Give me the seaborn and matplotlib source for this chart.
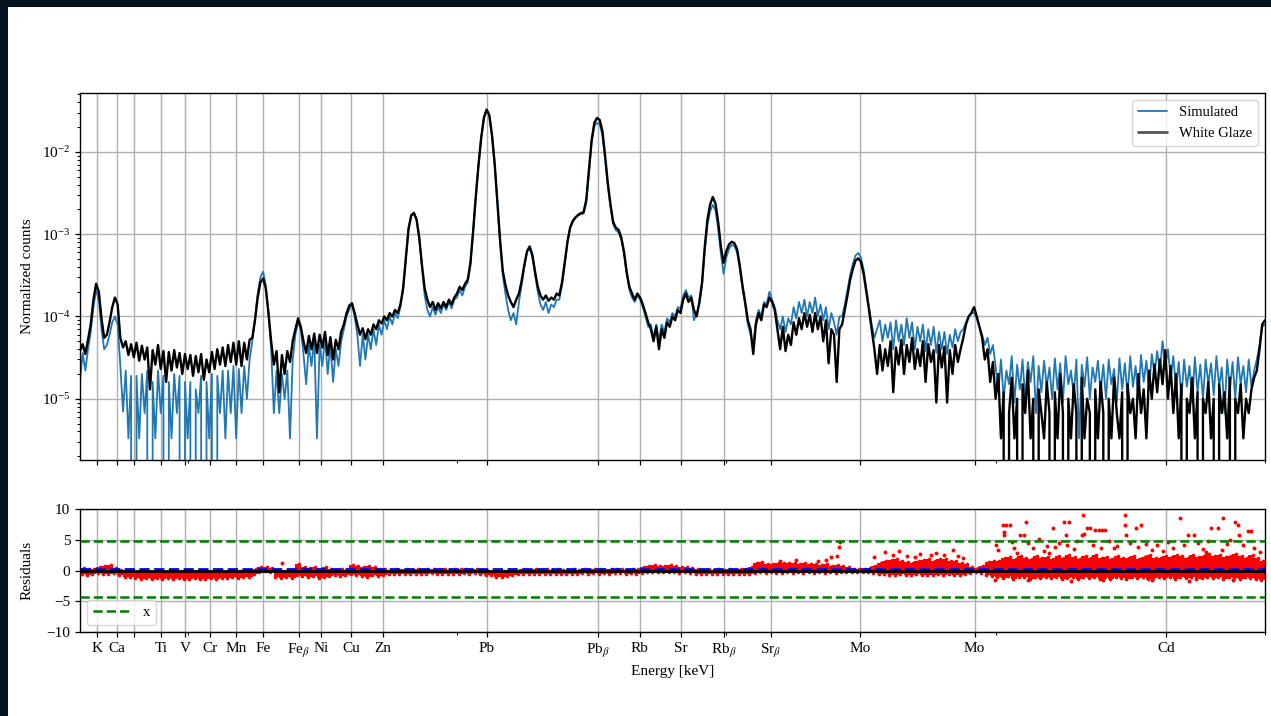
import matplotlib
matplotlib.use("Agg")
import matplotlib.pyplot as plt
import numpy as np
import seaborn as sns
from matplotlib.patches import Rectangle
from matplotlib.ticker import FixedLocator

# ── Data (counts in units of 1e-5, one row per keV, 0.05 keV steps) ─────────
simulated = [
    1.6, 3.6, 2.2, 4.0, 6.5, 13, 21, 16, 7.0, 4.0, 4.5, 6.0, 8.5, 10, 8.0, 2.5, 0.7, 2.2, 0.33, 1.9,
    0, 1.9, 0.33, 2.0, 0.67, 2.2, 0, 1.6, 0.33, 2.2, 0.67, 1.9, 0, 1.6, 0.33, 2.0, 0.67, 1.9, 0, 1.6,
    0.33, 1.6, 0, 1.3, 0.67, 1.9, 0, 1.6, 0.33, 2.0, 0, 1.9, 0.67, 2.2, 0.33, 2.2, 0.67, 2.5, 0.33, 2.3,
    0.67, 2.5, 1.0, 3.0, 5.0, 9.5, 19, 30, 35, 24, 11, 4.0, 0.67, 2.2, 0.67, 2.0, 1.0, 2.2, 0.33, 3.0,
    6.0, 8.5, 7.0, 3.5, 1.5, 4.5, 2.5, 5.5, 0.33, 4.5, 2.5, 5.5, 2.0, 4.5, 1.6, 4.0, 2.5, 5.0, 7.0, 10,
    12, 14.5, 10, 6.0, 2.5, 6.0, 3.0, 6.0, 4.0, 7.0, 4.5, 8.0, 6.0, 9.0, 7.0, 10, 8.0, 11, 9.5, 13,
    21, 50, 118, 172, 185, 152, 88, 40, 18, 12, 10, 13, 10.5, 13, 11, 14, 12, 15, 12.5, 16,
    17, 21, 18, 23, 26, 42, 105, 280, 690, 1480, 2580, 3250, 2780, 1580, 700, 240, 80, 32, 19, 12,
    9.0, 11, 8.0, 15, 24, 40, 60, 68, 53, 32, 20, 14, 12, 15, 11, 14, 13, 16, 16, 24,
    42, 78, 118, 142, 158, 168, 175, 178, 240, 560, 1300, 2050, 2250, 2150, 1600, 820, 390, 215, 132, 112,
    105, 85, 58, 33, 21, 17, 15, 18, 16, 13, 10, 7.5, 8.0, 5.5, 8.0, 5.0, 8.0, 6.5, 9.5, 8.5,
    11, 10, 13, 12.5, 18, 21, 17, 18, 9.0, 11, 14, 24, 62, 130, 190, 227, 195, 115, 58, 33,
    52, 66, 74, 72, 60, 38, 22, 14, 8.0, 6.0, 4.5, 9.0, 12, 10, 15, 14, 20, 16, 13, 9.0,
    7.0, 10, 6.5, 9.5, 8.0, 13, 9.5, 15, 11, 16, 10, 15, 11, 17, 10, 14, 9.0, 13, 7.0, 11,
    8.5, 6.0, 10, 10, 14, 21, 32, 44, 55, 59, 52, 37, 22, 13, 8.0, 5.5, 7.0, 9.0, 5.0, 8.0,
    5.5, 8.5, 4.0, 9.0, 5.0, 8.0, 4.5, 9.5, 5.5, 8.5, 4.0, 7.5, 5.0, 8.0, 3.8, 7.0, 4.5, 7.5, 3.6, 6.5,
    4.0, 6.5, 3.5, 6.0, 4.2, 7.0, 5.0, 6.5, 7.0, 8.5, 10, 11, 11, 9.5, 7.5, 6.0, 4.5, 5.5, 3.5, 4.5,
    2.5, 1.2, 3.0, 1.0, 2.2, 1.5, 3.3, 0.9, 2.6, 1.3, 3.0, 1.0, 2.8, 1.6, 3.3, 0.67, 2.5, 1.2, 2.9, 1.4,
    2.4, 1.0, 3.1, 1.3, 2.7, 0.9, 3.3, 1.5, 2.2, 1.1, 3.0, 0.33, 2.6, 1.4, 3.2, 1.0, 2.4, 1.6, 2.9, 1.2,
    2.6, 1.0, 3.0, 1.5, 2.3, 0.9, 3.1, 1.3, 2.7, 1.1, 3.3, 1.4, 2.5, 1.0, 3.4, 1.6, 2.9, 1.3, 3.5, 2.0,
    3.8, 2.2, 5.0, 2.4, 4.0, 1.8, 3.3, 1.3, 2.8, 1.0, 3.0, 1.4, 2.5, 0.9, 3.2, 1.2, 2.6, 1.0, 3.0, 1.5,
    2.7, 1.1, 3.3, 1.4, 2.4, 0.67, 3.0, 1.3, 2.8, 1.0, 3.2, 1.5, 2.5, 1.2, 3.0, 1.4, 2.2, 3.0, 4.5, 7.5,
    8.0,
]

white_glaze = [
    3.8, 4.6, 3.5, 5.2, 8.0, 16, 25, 20, 9.5, 5.5, 6.0, 8.5, 13, 17, 14, 5.5, 4.2, 5.0, 3.4, 4.6,
    3.2, 4.8, 2.9, 4.4, 3.0, 4.2, 1.3, 3.9, 2.6, 4.5, 2.3, 3.8, 1.6, 3.7, 2.2, 3.9, 2.4, 3.6, 2.0, 3.5,
    2.3, 3.4, 1.9, 3.3, 2.1, 3.5, 1.7, 3.0, 2.1, 3.7, 2.3, 4.0, 2.6, 4.2, 2.5, 4.5, 2.8, 4.8, 2.6, 5.0,
    2.5, 4.8, 3.0, 5.2, 5.5, 9.0, 17, 26, 29, 22, 11, 5.0, 2.6, 3.8, 1.2, 3.4, 2.0, 3.8, 2.8, 5.0,
    7.0, 9.5, 7.5, 5.0, 3.6, 5.8, 4.0, 6.2, 3.6, 6.0, 4.2, 6.5, 3.4, 5.6, 3.0, 5.2, 4.0, 6.5, 8.0, 11,
    13.5, 14.5, 11, 8.0, 6.0, 7.2, 5.3, 7.0, 6.0, 8.0, 7.0, 9.0, 8.2, 10, 9.0, 11, 10, 12, 11, 14,
    22, 50, 115, 168, 180, 150, 90, 42, 22, 16, 13, 15, 12, 14.5, 12.5, 15, 13, 16, 14, 17,
    19, 23, 21, 25, 28, 45, 110, 290, 700, 1500, 2600, 3270, 2800, 1600, 720, 250, 85, 36, 24, 18,
    15, 13, 16, 19, 27, 42, 62, 71, 56, 35, 23, 18, 16, 18, 15.5, 17, 16, 19, 18, 26,
    45, 80, 120, 145, 160, 172, 180, 185, 260, 600, 1390, 2250, 2590, 2450, 1800, 900, 420, 230, 140, 120,
    113, 92, 62, 35, 23, 19, 16, 19, 17, 14, 11, 8.5, 7.0, 5.0, 7.5, 4.0, 7.0, 5.5, 8.5, 7.5,
    10, 9.0, 12, 11, 16, 19, 15, 17, 12, 10, 15, 26, 70, 150, 230, 283, 235, 140, 70, 45,
    62, 75, 81, 78, 66, 42, 24, 15, 9.0, 7.0, 3.5, 8.0, 11, 9.0, 14, 13, 17, 15, 12, 7.0,
    4.0, 7.5, 3.8, 6.0, 4.5, 8.5, 6.0, 9.5, 7.0, 11, 7.5, 10.5, 6.5, 11, 7.0, 10, 5.0, 9.0, 2.7, 7.0,
    6.0, 1.6, 7.0, 8.0, 12, 18, 28, 38, 48, 51, 46, 33, 20, 12, 7.0, 4.0, 2.0, 4.5, 2.2, 4.0,
    2.5, 5.0, 1.2, 4.2, 2.6, 5.2, 2.0, 4.5, 2.8, 5.5, 2.3, 4.0, 2.5, 5.0, 1.6, 4.6, 2.8, 3.9, 0.9, 4.5,
    2.4, 4.3, 0.9, 3.9, 2.0, 4.5, 2.8, 4.0, 5.5, 8.0, 10, 11, 13, 10, 7.5, 5.5, 3.0, 4.0, 1.6, 2.8,
    1.0, 2.0, 0.33, 1.2, 0, 0.67, 1.8, 0.33, 1.0, 0, 1.5, 0.67, 2.2, 0.33, 1.0, 0, 1.3, 0.67, 0.33, 1.6,
    0.67, 0, 1.2, 0.33, 2.0, 0.67, 0, 1.0, 0.33, 1.5, 0.67, 0, 1.8, 0.33, 1.0, 0.67, 0, 1.3, 0.33, 1.6,
    0.67, 0, 1.0, 0.33, 1.8, 0.67, 0.33, 1.2, 0, 1.5, 0.67, 1.0, 0.33, 2.0, 0.67, 1.3, 0.33, 2.2, 1.0, 2.6,
    1.2, 3.0, 1.5, 3.9, 1.0, 2.5, 0.67, 2.0, 0.33, 1.5, 0, 1.0, 0.67, 1.8, 0.33, 1.2, 0, 1.0, 0.67, 1.6,
    0.33, 1.0, 0, 1.5, 0.67, 1.2, 0.33, 1.8, 0, 1.0, 0.67, 1.5, 0.33, 1.0, 0.67, 1.3, 1.8, 2.2, 4.0, 8.0,
    9.0,
]

# residual band per 0.1 keV bin (lower / upper edge of the dense cloud)
resid_low = [
    -0.6, -0.7, -0.5, -0.4, -0.6, -0.5, -0.4, -0.7, -1.0, -1.1,
    -1.2, -1.3, -1.2, -1.3, -1.2, -1.3, -1.2, -1.3, -1.2, -1.3,
    -1.3, -1.2, -1.3, -1.3, -1.2, -1.3, -1.2, -1.2, -1.1, -1.2,
    -1.1, -1.0, -0.6, -0.3, -0.1, -0.3, -1.0, -1.2, -1.1, -1.2,
    -0.7, -0.9, -1.0, -0.9, -1.2, -1.0, -0.9, -0.8, -0.9, -0.8,
    -0.6, -0.7, -0.9, -1.0, -0.8, -0.9, -0.7, -0.6, -0.6, -0.5,
    -0.5, -0.6, -0.5, -0.6, -0.5, -0.4, -0.5, -0.6, -0.5, -0.5,
    -0.5, -0.4, -0.5, -0.4, -0.6, -0.7, -0.8, -1.0, -1.0, -0.9,
    -0.7, -0.6, -0.5, -0.6, -0.5, -0.6, -0.5, -0.6, -0.5, -0.6,
    -0.5, -0.6, -0.5, -0.4, -0.5, -0.4, -0.5, -0.4, -0.5, -0.4,
    -0.4, -0.5, -0.4, -0.5, -0.4, -0.3, -0.3, -0.2, -0.3, -0.2,
    -0.3, -0.4, -0.3, -0.4, -0.5, -0.6, -0.5, -0.6, -0.5, -0.6,
    -0.6, -0.5, -0.6, -0.5, -0.5, -0.4, -0.3, -0.4, -0.3, -0.4,
    -0.4, -0.3, -0.4, -0.3, -0.4, -0.3, -0.4, -0.3, -0.4, -0.3,
    -0.4, -0.3, -0.3, -0.3, -0.3, -0.2, -0.3, -0.4, -0.5, -0.6,
    -0.7, -0.8, -0.6, -0.7, -0.8, -0.6, -0.7, -0.8, -0.7, -0.6,
    -0.7, -0.6, -0.8, -0.7, -0.6, -0.4, -0.3, -0.4, -0.7, -0.9,
    -1.0, -1.2, -0.9, -1.3, -1.1, -1.0, -1.3, -1.1, -1.2, -1.0,
    -1.2, -1.1, -1.4, -1.2, -1.0, -1.3, -1.1, -1.2, -1.0, -1.3,
    -1.1, -1.3, -1.0, -1.2, -1.4, -1.1, -1.2, -1.0, -1.3, -1.2,
    -1.0, -1.2, -1.1, -1.3, -1.0, -1.2, -1.1, -1.3, -1.2, -1.0,
    -1.2, -1.0, -1.3, -1.1, -1.2, -1.4, -1.1, -1.2, -1.3, -1.5,
]
resid_high = [
    0.4, 0.3, 0.3, 0.5, 0.7, 0.9, 0.4, 0.1, -0.2, -0.3,
    -0.3, -0.2, -0.3, -0.2, -0.3, -0.2, -0.3, -0.3, -0.2, -0.3,
    -0.3, -0.2, -0.3, -0.3, -0.2, -0.3, -0.2, -0.1, -0.2, -0.1,
    -0.1, 0.0, 0.2, 0.5, 0.6, 0.4, -0.1, -0.2, -0.2, -0.1,
    1.0, 0.6, 0.4, 0.6, 0.3, 0.5, 0.2, 0.1, 0.2, 0.1,
    0.9, 0.8, 0.6, 0.7, 0.5, 0.3, 0.2, 0.1, 0.2, 0.1,
    0.2, 0.1, 0.2, 0.1, 0.2, 0.2, 0.1, 0.2, 0.1, 0.2,
    0.2, 0.2, 0.1, 0.2, 0.1, 0.0, -0.1, -0.1, 0.0, 0.0,
    0.1, 0.1, 0.2, 0.1, 0.2, 0.1, 0.2, 0.1, 0.2, 0.1,
    0.1, 0.2, 0.1, 0.2, 0.1, 0.2, 0.2, 0.1, 0.2, 0.2,
    0.2, 0.1, 0.2, 0.3, 0.5, 0.8, 0.9, 0.8, 0.7, 0.9,
    0.7, 0.5, 0.6, 0.4, 0.2, 0.1, 0.2, 0.1, 0.2, 0.1,
    0.2, 0.1, 0.2, 0.3, 0.5, 1.2, 1.4, 1.1, 1.0, 1.2,
    1.3, 1.2, 1.3, 1.1, 1.2, 1.0, 1.1, 0.9, 1.0, 0.8,
    0.9, 0.7, 0.5, 0.3, 0.3, 0.2, 0.4, 0.8, 1.3, 1.6,
    1.7, 1.9, 1.6, 1.4, 1.3, 1.5, 1.7, 1.8, 1.6, 1.8,
    1.9, 1.6, 1.5, 1.3, 1.0, 0.5, 0.4, 0.8, 1.4, 1.6,
    1.6, 2.0, 2.2, 1.8, 2.3, 2.1, 1.9, 2.4, 2.0, 2.2,
    1.8, 2.3, 2.0, 2.5, 2.2, 1.9, 2.4, 2.1, 2.6, 2.0,
    2.2, 1.9, 2.4, 2.1, 2.0, 2.3, 1.8, 2.2, 2.5, 2.1,
    2.0, 2.4, 2.2, 2.6, 2.3, 2.1, 2.5, 2.2, 2.4, 2.7,
    2.3, 2.6, 2.2, 2.4, 2.7, 2.3, 2.1, 2.5, 2.0, 1.6,
]

# isolated residual points outside the dense cloud
sparse_energy = [
    6.75, 16.0, 16.3, 16.7, 16.85, 16.95, 17.05, 17.10, 17.12, 17.75, 17.95, 18.1, 18.2, 18.35,
    18.5, 18.6, 18.8, 18.9, 19.05, 19.2, 19.3, 19.4, 19.98, 20.0, 20.05, 20.14, 20.15, 20.15,
    20.2, 20.27, 20.3, 20.35, 20.4, 20.45, 20.52, 20.57, 20.6, 20.6, 20.7, 20.8, 20.9, 20.95,
    21.0, 21.06, 21.1, 21.18, 21.27, 21.3, 21.33, 21.37, 21.4, 21.45, 21.52, 21.6, 21.63,
    21.65, 21.7, 21.75, 21.8, 21.85, 21.92, 21.95, 21.98, 22.0, 22.03, 22.1, 22.2, 22.25,
    22.4, 22.4, 22.42, 22.5, 22.6, 22.65, 22.7, 22.8, 22.9, 22.9, 23.0, 23.1, 23.2, 23.3,
    23.43, 23.5, 23.58, 23.6, 23.68, 23.75, 23.85, 23.9, 23.95, 24.0, 24.12, 24.2, 24.23,
    24.3, 24.35, 24.4, 24.44, 24.5, 24.52, 24.6, 24.68, 24.75, 24.8, 24.9,
]
sparse_resid = [
    1.24, 1.6, 1.7, 1.6, 1.7, 2.2, 2.4, 3.8, 4.67, 2.2, 3.0, 2.6, 3.1, 2.4,
    2.2, 2.7, 2.5, 2.9, 2.6, 3.3, 2.4, 2.1, -1.5, 4.2, 3.4, 7.4, 6.3, 5.8,
    7.4, 7.4, 4.6, 3.6, 2.9, 5.8, 5.8, 7.9, 4.4, -1.6, 3.6, 5.2, 3.2, 4.0,
    2.9, 6.85, 3.8, 4.5, 7.9, 5.8, 4.2, 7.9, -1.7, 3.5, 4.8, 5.8, 9.1,
    6.0, 6.9, 6.9, 4.2, 6.6, 6.6, 3.6, 6.6, -1.6, 6.6, 4.8, 3.6, 4.0,
    9.1, 7.4, 5.8, 4.4, 6.9, 3.9, 7.4, 4.3, 3.4, -1.5, 4.2, 3.2, 4.6, 3.6,
    8.5, 4.2, 5.8, -1.7, 5.8, 4.4, 3.5, 3.0, 4.8, 6.85, 6.85, 3.3, 8.5,
    4.3, 5.0, -1.6, 7.9, 7.4, 5.8, 4.2, 6.4, 6.4, 3.6, 3.0,
]

resid_mean = 0.2
resid_upper = 4.73
resid_lower = -4.24

element_energies = [3.31, 3.69, 4.01, 4.51, 4.95, 5.41, 5.90, 6.40, 7.06, 7.47, 8.04, 8.63,
                    10.55, 12.61, 13.39, 14.16, 14.96, 15.83, 17.48, 19.61, 23.17]
element_labels = ["K", "Ca", "", "Ti", "V", "Cr", "Mn", "Fe", r"Fe$_\beta$", "Ni", "Cu", "Zn",
                  "Pb", r"Pb$_\beta$", "Rb", "Sr", r"Rb$_\beta$", r"Sr$_\beta$", "Mo", "Mo", "Cd"]

energy = np.round(np.arange(len(simulated)) * 0.05 + 3.0, 2)
resid_bins = np.round(np.arange(len(resid_low)) * 0.1 + 3.05, 2)

# ── Style ──────────────────────────────────────────────────────────────────
sns.set_theme(style="ticks")
plt.rcParams.update({
    "font.family": "serif",
    "font.serif": ["Liberation Serif", "DejaVu Serif"],
    "mathtext.fontset": "stix",
    "font.size": 11,
    "axes.labelsize": 11,
    "xtick.labelsize": 11,
    "ytick.labelsize": 11,
    "axes.edgecolor": "black",
    "axes.linewidth": 1.0,
    "xtick.color": "black",
    "ytick.color": "black",
    "axes.labelcolor": "black",
    "text.color": "black",
})

fig = plt.figure(figsize=(12.71, 7.16), dpi=100, facecolor="#03131f")
fig.patches.append(Rectangle((8 / 1271, 0), 1, 709 / 716, transform=fig.transFigure,
                             facecolor="white", edgecolor="none", zorder=-10))

ax = fig.add_axes([0.0629, 0.3575, 0.9323, 0.5126])
ax_res = fig.add_axes([0.0629, 0.1173, 0.9323, 0.1718], sharex=ax)

# ── Spectrum ───────────────────────────────────────────────────────────────
sns.lineplot(x=energy, y=np.array(simulated) * 1e-5, ax=ax, color="#1f77b4", lw=1.3,
             label="Simulated", estimator=None, sort=False)
sns.lineplot(x=energy, y=np.array(white_glaze) * 1e-5, ax=ax, color="black", lw=1.7,
             label="White Glaze", estimator=None, sort=False)
ax.set_yscale("log")
ax.set_ylim(1.8e-6, 5.2e-2)
ax.set_ylabel("Normalized counts")
leg = ax.legend(loc="upper right", fontsize=10.5)
leg.legend_handles[0].set_linewidth(1.3)
leg.legend_handles[1].set_color("#555555")
leg.legend_handles[1].set_linewidth(2.0)

# ── Residuals ──────────────────────────────────────────────────────────────
ax_res.vlines(resid_bins, resid_low, resid_high, color="red", lw=4.4, zorder=2)
sns.scatterplot(x=np.r_[resid_bins - 0.02, resid_bins + 0.02], y=np.r_[resid_low, resid_high],
                ax=ax_res, color="red", s=7, linewidth=0, zorder=3)
sns.scatterplot(x=sparse_energy, y=sparse_resid, ax=ax_res, color="red", s=8, linewidth=0, zorder=3)
ax_res.axhline(resid_mean, color="blue", ls="--", lw=2, zorder=4)
ax_res.axhline(0, color="black", lw=2, zorder=5)
ax_res.axhline(resid_upper, color="green", ls="--", lw=1.8, label="x", zorder=4)
ax_res.axhline(resid_lower, color="green", ls="--", lw=1.8, zorder=4)
ax_res.set_ylim(-10, 10)
ax_res.set_yticks([-10, -5, 0, 5, 10])
ax_res.set_ylabel("Residuals")
ax_res.set_xlabel("Energy [keV]")
ax_res.legend(loc="lower left", fontsize=10.5, handlelength=2.6)

# ── Axes / ticks ───────────────────────────────────────────────────────────
for a in (ax, ax_res):
    a.set_xlim(3.0, 25.0)
    a.set_xticks(element_energies)
    a.xaxis.set_minor_locator(FixedLocator([5, 10, 15, 20, 25]))
    a.grid(True, which="major", color="#b0b0b0", lw=1.0)
    a.grid(False, which="minor")
    a.tick_params(which="major", length=3.5, width=0.9)
    a.tick_params(which="minor", length=2.0, width=0.7)
    a.yaxis.set_label_coords(-0.039, 0.5)
    a.set_axisbelow(True)

ax.tick_params(labelbottom=False)
ax_res.set_xticklabels(element_labels)

fig.savefig("out.png", dpi=100)
